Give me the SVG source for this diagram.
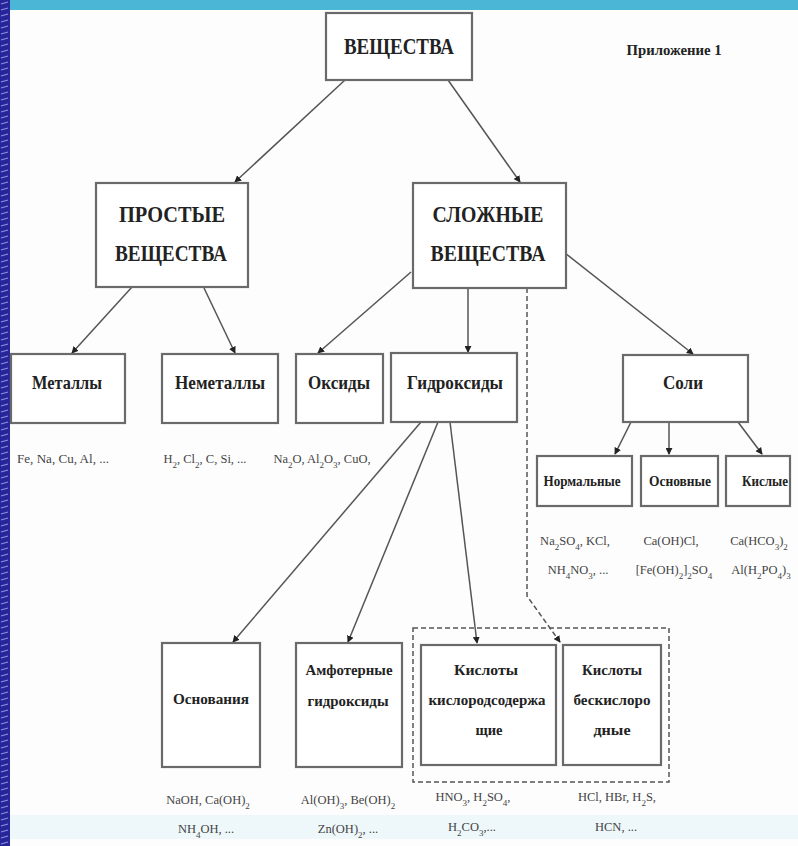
<svg xmlns="http://www.w3.org/2000/svg" width="798" height="846" viewBox="0 0 798 846">
<defs>
<pattern id="stripe" width="10" height="6" patternUnits="userSpaceOnUse">
<rect width="10" height="6" fill="#26269a"/>
<path d="M1 4 L8 2" stroke="#8c8ce0" stroke-width="1.2"/>
</pattern>
<marker id="ah" viewBox="0 0 8 8" refX="7" refY="4" markerWidth="7" markerHeight="7" markerUnits="userSpaceOnUse" orient="auto">
<path d="M0 0 L8 4 L0 8 Z" fill="#222"/>
</marker>
<style>
.box{fill:#fff;stroke:#6a6a6a;stroke-width:2.2}
.ln{stroke:#555;stroke-width:1.5;fill:none}
.dash{stroke:#555;stroke-width:1.5;fill:none;stroke-dasharray:5 3}
text{font-family:"Liberation Serif","DejaVu Serif",serif;fill:#222;text-anchor:middle;font-weight:bold}
.t1{font-size:24px}
.t2{font-size:18px}
.t3{font-size:14px}
.f{font-size:12.5px;fill:#444;font-weight:normal}
.s{font-size:9px;baseline-shift:sub}
</style>
</defs>
<rect width="798" height="846" fill="#fdfdfd"/>
<rect x="10" y="815" width="788" height="24" fill="#eef8fa"/>
<rect x="0" y="0" width="798" height="10" fill="#4bb6d6"/>
<rect x="0" y="0" width="10" height="846" fill="url(#stripe)"/>

<g id="connectors">
<line class="ln" x1="345" y1="80" x2="235" y2="182" marker-end="url(#ah)"/>
<line class="ln" x1="448" y1="80" x2="520" y2="182" marker-end="url(#ah)"/>
<line class="ln" x1="132" y1="287" x2="72" y2="353" marker-end="url(#ah)"/>
<line class="ln" x1="204" y1="288" x2="235" y2="353" marker-end="url(#ah)"/>
<line class="ln" x1="411" y1="272" x2="318" y2="353" marker-end="url(#ah)"/>
<line class="ln" x1="468" y1="288" x2="468" y2="352" marker-end="url(#ah)"/>
<line class="ln" x1="565" y1="253" x2="693" y2="354" marker-end="url(#ah)"/>
<polyline class="dash" points="527,288 527,596 560,642" marker-end="url(#ah)"/>
<line class="ln" x1="631" y1="422" x2="615" y2="454" marker-end="url(#ah)"/>
<line class="ln" x1="669" y1="422" x2="669" y2="454" marker-end="url(#ah)"/>
<line class="ln" x1="738" y1="422" x2="762" y2="454" marker-end="url(#ah)"/>
<line class="ln" x1="421" y1="422" x2="233" y2="642" stroke-width="2.4" marker-end="url(#ah)"/>
<line class="ln" x1="438" y1="422" x2="348" y2="642" marker-end="url(#ah)"/>
<line class="ln" x1="450" y1="422" x2="477" y2="643" marker-end="url(#ah)"/>
<rect class="dash" x="413" y="628" width="256" height="154"/>
</g>

<g id="n-veshchestva">
<rect class="box" x="326" y="13" width="146" height="67"/>
<text class="t1" x="399" y="54" textLength="110" lengthAdjust="spacingAndGlyphs">ВЕЩЕСТВА</text>
</g>
<g id="n-prilozhenie">
<text class="t3" x="674" y="55" textLength="95" lengthAdjust="spacingAndGlyphs">Приложение 1</text>
</g>
<g id="n-prostye">
<rect class="box" x="96" y="183" width="152" height="104"/>
<text class="t1" x="172" y="222" textLength="106" lengthAdjust="spacingAndGlyphs">ПРОСТЫЕ</text>
<text class="t1" x="171" y="261" textLength="112" lengthAdjust="spacingAndGlyphs">ВЕЩЕСТВА</text>
</g>
<g id="n-slozhnye">
<rect class="box" x="413" y="183" width="153" height="105"/>
<text class="t1" x="488" y="222" textLength="111" lengthAdjust="spacingAndGlyphs">СЛОЖНЫЕ</text>
<text class="t1" x="488" y="261" textLength="115" lengthAdjust="spacingAndGlyphs">ВЕЩЕСТВА</text>
</g>

<g id="n-metally">
<rect class="box" x="11" y="354" width="114" height="69"/>
<text class="t2" x="67" y="389" textLength="70" lengthAdjust="spacingAndGlyphs">Металлы</text>
</g>
<g id="n-nemetally">
<rect class="box" x="162" y="354" width="116" height="69"/>
<text class="t2" x="220" y="389" textLength="90" lengthAdjust="spacingAndGlyphs">Неметаллы</text>
</g>
<g id="n-oksidy">
<rect class="box" x="296" y="354" width="87" height="69"/>
<text class="t2" x="339" y="389" textLength="62" lengthAdjust="spacingAndGlyphs">Оксиды</text>
</g>
<g id="n-gidroksidy">
<rect class="box" x="391" y="353" width="126" height="69"/>
<text class="t2" x="455" y="389" textLength="96" lengthAdjust="spacingAndGlyphs">Гидроксиды</text>
</g>
<g id="n-soli">
<rect class="box" x="623" y="355" width="125" height="67"/>
<text class="t2" x="683" y="389" textLength="40" lengthAdjust="spacingAndGlyphs">Соли</text>
</g>

<g id="f-metally"><text class="f" x="63" y="463" textLength="92" lengthAdjust="spacingAndGlyphs">Fe, Na, Cu, Al, ...</text></g>
<g id="f-nemetally"><text class="f" x="205" y="463">H<tspan class="s">2</tspan>, Cl<tspan class="s">2</tspan>, C, Si, ...</text></g>
<g id="f-oksidy"><text class="f" x="322" y="463">Na<tspan class="s">2</tspan>O, Al<tspan class="s">2</tspan>O<tspan class="s">3</tspan>, CuO,</text></g>

<g id="n-normalnye">
<rect class="box" x="537" y="456" width="95" height="50"/>
<text class="t3" x="582" y="486" textLength="77" lengthAdjust="spacingAndGlyphs">Нормальные</text>
</g>
<g id="n-osnovnye">
<rect class="box" x="641" y="456" width="77" height="50"/>
<text class="t3" x="680" y="486" textLength="62" lengthAdjust="spacingAndGlyphs">Основные</text>
</g>
<g id="n-kislye">
<rect class="box" x="726" y="456" width="64" height="50"/>
<text class="t3" x="765" y="486" textLength="46" lengthAdjust="spacingAndGlyphs">Кислые</text>
</g>

<g id="f-normalnye">
<text class="f" x="575" y="545">Na<tspan class="s">2</tspan>SO<tspan class="s">4</tspan>, KCl,</text>
<text class="f" x="578" y="574">NH<tspan class="s">4</tspan>NO<tspan class="s">3</tspan>, ...</text>
</g>
<g id="f-osnovnye">
<text class="f" x="671" y="545">Ca(OH)Cl,</text>
<text class="f" x="674" y="574">[Fe(OH)<tspan class="s">2</tspan>]<tspan class="s">2</tspan>SO<tspan class="s">4</tspan></text>
</g>
<g id="f-kislye">
<text class="f" x="759" y="545">Ca(HCO<tspan class="s">3</tspan>)<tspan class="s">2</tspan></text>
<text class="f" x="761" y="574">Al(H<tspan class="s">2</tspan>PO<tspan class="s">4</tspan>)<tspan class="s">3</tspan></text>
</g>

<g id="n-osnovaniya">
<rect class="box" x="162" y="643" width="98" height="124"/>
<text class="t3" x="211" y="704" textLength="76" lengthAdjust="spacingAndGlyphs">Основания</text>
</g>
<g id="n-amfoternye">
<rect class="box" x="296" y="643" width="106" height="124"/>
<text class="t3" x="349" y="675" textLength="87" lengthAdjust="spacingAndGlyphs">Амфотерные</text>
<text class="t3" x="348" y="706" textLength="81" lengthAdjust="spacingAndGlyphs">гидроксиды</text>
</g>
<g id="n-kisl-kislorod">
<rect class="box" x="421" y="645" width="135" height="120"/>
<text class="t3" x="486" y="675" textLength="64" lengthAdjust="spacingAndGlyphs">Кислоты</text>
<text class="t3" x="487" y="705" textLength="117" lengthAdjust="spacingAndGlyphs">кислородсодержа</text>
<text class="t3" x="489" y="735" textLength="27" lengthAdjust="spacingAndGlyphs">щие</text>
</g>
<g id="n-kisl-beskislorod">
<rect class="box" x="563" y="645" width="98" height="120"/>
<text class="t3" x="612" y="675" textLength="60" lengthAdjust="spacingAndGlyphs">Кислоты</text>
<text class="t3" x="612" y="705" textLength="77" lengthAdjust="spacingAndGlyphs">бескислоро</text>
<text class="t3" x="612" y="735" textLength="37" lengthAdjust="spacingAndGlyphs">дные</text>
</g>

<g id="f-osnovaniya">
<text class="f" x="208" y="804">NaOH, Ca(OH)<tspan class="s">2</tspan></text>
<text class="f" x="206" y="833">NH<tspan class="s">4</tspan>OH, ...</text>
</g>
<g id="f-amfoternye">
<text class="f" x="348" y="804">Al(OH)<tspan class="s">3</tspan>, Be(OH)<tspan class="s">2</tspan></text>
<text class="f" x="348" y="833">Zn(OH)<tspan class="s">2</tspan>, ...</text>
</g>
<g id="f-kisl-kislorod">
<text class="f" x="473" y="801">HNO<tspan class="s">3</tspan>, H<tspan class="s">2</tspan>SO<tspan class="s">4</tspan>,</text>
<text class="f" x="472" y="831">H<tspan class="s">2</tspan>CO<tspan class="s">3</tspan>,...</text>
</g>
<g id="f-kisl-beskislorod">
<text class="f" x="617" y="801">HCl, HBr, H<tspan class="s">2</tspan>S,</text>
<text class="f" x="616" y="831">HCN, ...</text>
</g>
</svg>
